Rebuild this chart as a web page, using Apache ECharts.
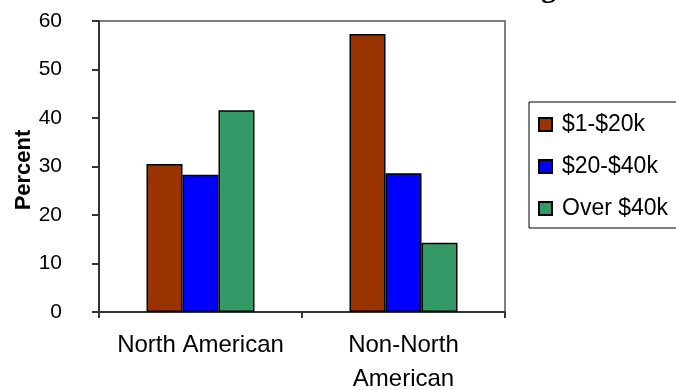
<!DOCTYPE html>
<html>
<head>
<meta charset="utf-8">
<script src="https://cdn.jsdelivr.net/npm/echarts@6/dist/echarts.min.js"></script>
<style>
html,body{margin:0;padding:0;background:#fff;}
#c{width:676px;height:390px;}
</style>
</head>
<body>
<div id="c"></div>
<script>
var categories = ['North American', 'Non-North\nAmerican'];
var seriesNames = ['$1-$20k', '$20-$40k', 'Over $40k'];
var low = [30.5, 57.3];
var mid = [28.3, 28.6];
var high = [41.6, 14.3];
var yTicks = [0, 10, 20, 30, 40, 50, 60];
var titleText = 'Income Distribution Among';
var yAxisTitle = 'Percent';

var colors = ['#993300', '#0000FF', '#339966'];
var values = [low, mid, high];

var chart = echarts.init(document.getElementById('c'), null, {renderer: 'canvas'});
var font = 'Liberation Sans, Arial, sans-serif';
chart.setOption({
  animation: false,
  textStyle: {fontFamily: font},
  graphic: [{
    type: 'text',
    x: 556, y: 4,
    style: {
      text: titleText,
      textAlign: 'right',
      textVerticalAlign: 'bottom',
      font: 'bold 30px "Liberation Serif", serif',
      fill: '#000'
    }
  }, {
    type: 'text',
    x: 23.5, y: 170,
    rotation: Math.PI / 2,
    style: {
      text: yAxisTitle,
      textAlign: 'center',
      textVerticalAlign: 'middle',
      font: 'bold 22px "Liberation Sans", Arial, sans-serif',
      fill: '#000'
    }
  }],
  grid: {
    left: 99, top: 21, right: 171, bottom: 78,
    containLabel: false,
    outerBoundsMode: 'none',
    show: true, borderColor: '#808080', borderWidth: 2, backgroundColor: '#fff'
  },
  legend: {
    orient: 'vertical',
    left: 529, top: 102,
    padding: [11, 60, 8, 9],
    itemGap: 19,
    itemWidth: 13, itemHeight: 13,
    icon: 'rect',
    borderColor: '#000', borderWidth: 1,
    textStyle: {fontSize: 23, lineHeight: 23, color: '#000', fontFamily: font, padding: [0,0,0,5]},
    data: seriesNames
  },
  xAxis: {
    type: 'category',
    data: categories,
    axisLine: {lineStyle: {color: '#333', width: 2}},
    axisTick: {show: true, length: 6, lineStyle: {color: '#333', width: 2}},
    axisLabel: {fontSize: 24, lineHeight: 34, color: '#000', margin: 16, interval: 0}
  },
  yAxis: {
    type: 'value',
    min: 0, max: 60, interval: 10,
    axisLine: {show: true, lineStyle: {color: '#333', width: 2}},
    axisTick: {show: true, length: 7, lineStyle: {color: '#333', width: 2}},
    splitLine: {show: false},
    axisLabel: {fontSize: 21, color: '#000', margin: 37, customValues: yTicks}
  },
  series: seriesNames.map(function (n, i) {
    return {
      name: n,
      type: 'bar',
      data: values[i],
      barWidth: 36,
      barGap: '0%',
      itemStyle: {color: colors[i], borderColor: '#000', borderWidth: 1.5}
    };
  })
});
</script>
</body>
</html>
